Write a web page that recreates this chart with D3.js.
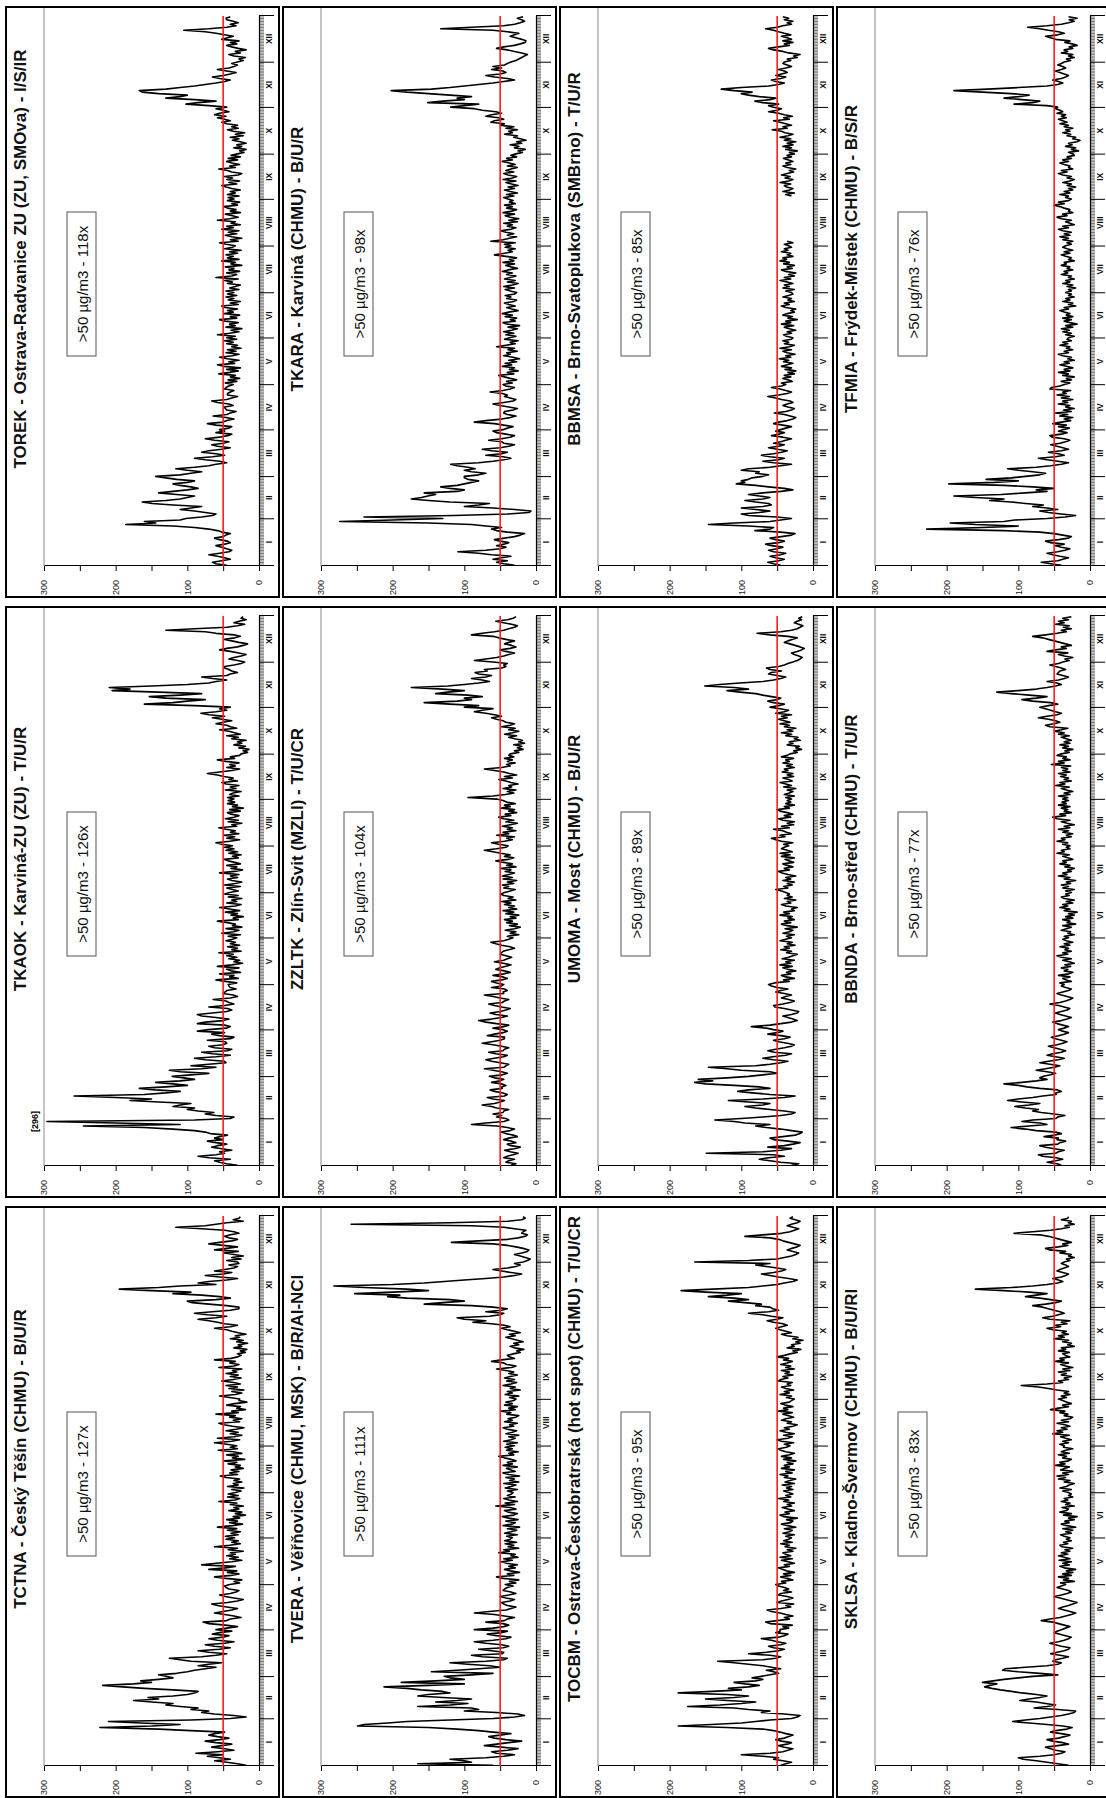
<!DOCTYPE html>
<html>
<head>
<meta charset="utf-8">
<script src="https://cdn.jsdelivr.net/npm/d3@7"></script>
<style>
  html, body { margin: 0; padding: 0; background: #fff; }
  svg { display: block; font-family: "Liberation Sans", Arial, Helvetica, sans-serif; }
</style>
</head>
<body>
<svg id="chart"></svg>
<script>
// ---- axis vocabulary -------------------------------------------------------
const months = ["I", "II", "III", "IV", "V", "VI", "VII", "VIII", "IX", "X", "XI", "XII"];
const monthDays = [31, 28, 31, 30, 31, 30, 31, 31, 30, 31, 30, 31];
const valueTicks = [0, 50, 100, 150, 200, 250, 300];
const valueLabels = [0, 100, 200, 300];
const limitValue = 50;

// ---- stations (ordered by number of days above the limit) -----------------
const stationCodes = ["TCTNA", "TKAOK", "TOREK", "TVERA", "ZZLTK", "TKARA",
                      "TOCBM", "UMOMA", "BBMSA", "SKLSA", "BBNDA", "TFMIA"];
const stationTitles = [
  "TCTNA - Český Těšín (CHMU) - B/U/R",
  "TKAOK - Karviná-ZU (ZU) - T/U/R",
  "TOREK - Ostrava-Radvanice ZU (ZU, SMOva) - I/S/IR",
  "TVERA - Věřňovice (CHMU, MSK) - B/R/AI-NCI",
  "ZZLTK - Zlín-Svit (MZLI) - T/U/CR",
  "TKARA - Karviná (CHMU) - B/U/R",
  "TOCBM - Ostrava-Českobratrská (hot spot) (CHMU) - T/U/CR",
  "UMOMA - Most (CHMU) - B/U/R",
  "BBMSA - Brno-Svatoplukova (SMBrno) - T/U/R",
  "SKLSA - Kladno-Švermov (CHMU) - B/U/RI",
  "BBNDA - Brno-střed (CHMU) - T/U/R",
  "TFMIA - Frýdek-Místek (CHMU) - B/S/R"
];
const exceedDays = [127, 126, 118, 111, 104, 98, 95, 89, 85, 83, 77, 76];

// ---- daily PM10 means, µg/m3, one row per month ----------------------------
const TCTNA = [
  18,30,45,62,40,55,72,50,88,58,35,48,66,52,38,60,75,55,42,58,70,62,48,95,140,222,150,110,165,210,95,
  40,18,35,62,80,70,95,85,110,130,120,150,175,140,155,120,100,90,85,120,160,190,218,175,150,165,140,120,
  130,140,115,100,90,75,60,85,70,52,95,110,125,80,60,45,70,85,55,40,62,75,48,35,58,70,50,42,65,55,38,
  60,45,30,47,70,78,45,40,25,35,48,62,50,38,30,45,58,66,44,30,22,35,47,55,40,32,28,42,46,48,
  41,27,35,24,46,62,39,28,44,31,70,47,33,80,60,38,24,41,29,45,33,40,22,43,30,62,41,26,38,29,46,
  34,47,29,39,26,44,31,58,37,23,41,30,45,27,36,19,33,24,42,28,35,22,40,31,56,33,27,44,29,43,
  33,25,38,21,44,29,36,24,35,27,46,54,30,41,28,39,22,33,26,43,31,48,20,37,29,45,24,36,57,30,40,
  31,45,62,38,27,58,35,24,40,29,46,32,21,37,49,56,27,36,24,41,33,60,29,38,19,31,26,45,34,17,28,
  27,41,55,33,24,38,21,42,30,46,26,35,52,36,25,40,29,46,31,37,24,56,35,28,41,33,62,39,30,25,
  30,19,26,17,35,24,29,16,31,22,40,27,33,18,29,38,45,62,40,30,48,58,70,85,60,45,72,90,65,40,28,
  28,45,70,93,100,60,40,55,80,120,95,150,195,140,110,60,85,70,45,30,55,75,50,38,62,48,35,30,42,28,
  30,45,25,38,22,35,48,29,62,45,30,50,70,55,38,30,42,48,40,28,35,48,80,116,75,60,45,22,36,28,26
];
const TKAOK = [
  30,45,55,62,40,70,85,60,48,55,38,52,66,58,45,60,72,50,62,55,44,68,75,90,120,160,245,110,200,296,90,
  40,35,60,75,63,85,100,90,120,110,95,140,180,150,200,258,160,130,110,145,167,130,100,120,144,110,90,105,
  121,95,70,110,125,80,60,95,70,46,48,75,90,60,40,65,80,44,38,62,70,50,45,47,72,40,35,55,66,48,86,
  70,45,40,48,86,75,50,42,60,80,86,65,45,38,44,70,48,35,42,46,64,40,30,36,50,47,45,32,40,42,
  43,31,47,60,29,41,35,55,26,39,45,28,58,38,23,35,27,42,31,45,36,56,25,38,30,44,27,40,33,46,37,
  31,43,26,52,35,28,46,24,37,33,44,58,29,36,22,39,30,47,27,41,55,33,25,45,31,38,24,43,29,48,
  41,29,37,45,26,48,33,24,38,44,30,40,28,55,34,23,39,31,45,26,34,43,49,29,37,25,42,30,46,35,48,
  37,52,60,41,27,45,34,49,28,40,33,46,56,31,38,24,43,29,47,35,28,39,44,26,41,22,37,30,44,34,43,
  35,44,28,41,36,25,47,32,40,28,46,52,30,42,36,49,58,72,55,38,27,45,33,41,28,46,58,34,40,27,
  25,16,22,14,28,19,35,24,30,18,38,29,45,26,34,42,55,31,40,45,60,50,38,52,65,48,70,81,60,45,55,
  40,90,160,120,100,75,130,153,110,80,140,205,180,209,150,100,70,60,45,65,80,45,40,30,38,42,48,48,35,25,
  20,30,42,35,25,18,28,40,55,45,30,22,16,28,38,48,34,26,35,60,75,130,90,45,30,20,35,28,18,25,22
];
const TOREK = [
  45,60,65,52,40,48,58,70,55,42,38,45,52,60,48,40,44,55,62,50,46,40,52,58,70,90,120,186,144,160,110,
  102,80,65,60,75,90,110,95,80,120,149,163,130,110,100,90,115,140,120,100,85,95,110,120,100,90,115,130,
  144,110,95,80,100,116,90,70,60,45,55,75,90,65,48,60,80,70,52,40,58,66,50,42,62,75,55,44,38,60,48,
  55,42,38,60,72,50,45,35,46,64,45,40,32,45,47,48,36,42,58,66,45,38,30,44,44,40,35,48,46,42,
  36,47,31,43,27,40,33,56,41,29,45,26,49,58,34,42,28,44,55,37,28,46,32,44,25,38,30,45,36,48,31,
  45,33,58,41,28,39,24,46,33,41,29,47,55,31,40,27,48,36,44,30,47,52,29,40,26,43,35,46,31,44,
  35,46,28,41,33,26,44,37,48,29,60,38,31,45,27,42,35,47,24,39,33,52,28,44,36,46,30,41,25,48,37,
  33,46,55,29,40,24,38,47,31,43,28,52,36,45,26,39,33,58,41,29,37,47,26,40,32,44,49,30,38,27,44,
  35,43,28,44,33,40,26,38,46,52,31,42,27,45,37,48,29,24,38,44,56,33,41,27,38,45,30,43,26,39,
  30,21,27,18,35,24,31,18,26,37,28,40,22,33,20,36,44,29,38,30,45,52,40,48,58,46,62,55,42,50,60,
  45,70,102,85,60,90,130,110,100,140,163,167,130,110,90,75,60,48,40,55,65,50,40,32,45,58,42,35,30,38,
  30,22,28,19,35,42,26,33,18,29,38,45,31,40,28,52,44,36,48,60,75,105,70,45,32,40,29,36,45,46,40
];
const TVERA = [
  60,165,90,100,120,70,45,30,55,62,40,25,48,72,55,38,20,42,58,66,50,35,60,80,110,150,249,240,207,180,120,
  60,30,16,25,55,100,80,90,165,120,95,140,110,90,130,165,150,120,130,160,180,212,150,100,188,140,100,120,
  128,90,60,146,110,80,50,65,95,120,70,45,40,75,90,47,45,62,80,46,38,48,70,86,60,42,35,55,68,48,40,
  86,60,45,38,46,70,44,40,30,44,58,86,65,42,35,28,40,45,48,36,30,42,50,38,28,35,46,44,40,32,
  43,28,37,24,46,55,31,40,23,36,44,29,38,26,41,48,33,45,25,35,29,52,37,45,24,39,31,43,27,44,36,
  33,41,26,44,35,27,40,23,46,34,29,42,25,38,47,31,26,39,44,28,36,56,30,43,26,38,45,29,40,34,
  32,40,26,43,35,28,45,24,37,30,42,23,38,46,29,35,41,26,46,33,40,28,35,44,52,31,38,25,41,33,43,
  30,41,26,45,35,29,38,24,42,33,27,40,46,31,37,26,44,33,39,28,24,41,35,48,29,38,26,44,33,42,31,
  28,37,24,43,33,40,22,36,29,46,35,27,41,30,44,36,26,38,31,42,55,34,28,41,45,62,48,30,37,40,
  32,22,27,17,30,36,24,31,18,26,34,42,29,37,22,30,40,48,36,44,62,88,70,100,110,65,50,45,70,48,40,
  60,90,156,130,100,120,180,207,190,253,200,150,180,240,282,200,156,128,100,70,45,30,20,35,48,60,40,28,22,30,
  18,12,8,15,22,30,20,12,10,18,28,40,60,118,80,40,25,15,12,20,18,14,30,45,90,258,120,40,20,15,18
];
const ZZLTK = [
  35,28,42,38,30,45,40,32,25,36,44,30,22,35,40,28,34,45,38,26,32,42,48,36,30,40,55,90,70,45,38,
  42,55,48,60,46,45,38,55,62,75,58,50,44,60,68,44,40,46,58,64,47,48,42,48,62,50,45,58,
  65,47,40,48,60,72,45,42,38,50,62,70,58,45,40,56,66,46,44,38,48,60,75,62,50,44,44,68,58,46,40,
  46,60,45,38,55,70,80,62,48,40,56,64,50,42,36,48,58,66,47,44,38,50,60,72,45,46,40,44,62,48,
  45,55,62,48,40,46,60,45,36,44,56,50,42,35,46,58,45,40,34,42,50,48,46,38,30,36,48,56,63,45,38,
  32,40,24,36,28,43,30,22,37,26,41,33,44,28,36,24,42,31,46,27,38,30,44,35,48,28,39,32,45,49,
  44,36,29,45,38,47,31,40,27,46,33,47,38,30,43,35,48,28,41,33,45,56,39,31,44,36,49,60,72,55,42,
  39,52,62,44,33,41,30,55,38,46,28,40,33,47,36,26,42,31,45,52,35,43,27,38,30,48,36,44,29,41,46,
  55,95,60,43,31,40,28,46,34,38,25,35,42,52,33,44,27,37,45,58,72,48,36,41,29,40,33,44,31,38,
  36,24,30,18,26,20,31,16,24,19,30,38,27,44,33,24,38,29,48,36,30,42,46,55,62,48,58,70,86,75,60,
  100,80,120,156,110,90,100,75,95,140,123,100,130,174,123,100,80,65,75,90,70,62,80,85,68,72,48,42,45,40,
  60,86,70,55,45,38,30,42,50,36,28,34,44,38,30,42,52,60,90,75,58,45,38,30,26,34,45,56,40,32,28
];
const TKARA = [
  30,45,55,40,60,48,35,62,80,109,70,50,42,55,45,38,50,58,44,30,22,16,40,55,62,48,70,90,150,274,200,
  130,240,114,40,10,7,30,60,100,80,65,120,150,174,160,151,140,156,110,100,120,133,110,100,90,80,95,100,
  100,80,70,90,100,85,95,110,119,80,60,45,35,46,70,48,40,62,75,50,38,30,45,48,66,48,36,30,42,55,60,
  46,40,32,45,58,86,70,48,36,28,40,45,44,32,26,38,50,60,45,32,28,36,44,40,47,64,46,36,30,42,
  46,33,41,27,36,44,52,31,40,25,37,30,47,34,43,27,38,23,32,45,36,41,26,39,30,55,42,29,36,25,44,
  37,28,42,31,45,34,26,39,23,40,46,29,36,27,43,33,47,38,25,34,41,29,38,44,31,27,41,35,43,30,
  27,36,43,30,45,33,25,40,29,44,36,28,41,33,47,39,26,35,42,30,46,31,37,27,42,58,44,33,39,29,43,
  35,44,29,63,46,37,27,40,31,42,49,35,28,40,33,45,26,38,24,36,43,30,46,34,27,41,33,44,29,37,32,
  39,45,31,41,26,36,44,30,39,25,34,42,28,46,33,27,39,45,31,42,35,26,40,29,37,47,33,41,27,35,
  28,19,25,15,30,24,36,20,27,14,22,31,26,44,33,38,26,42,31,50,44,63,58,45,52,70,62,48,56,75,86,
  119,100,80,151,130,100,110,90,120,150,180,202,146,120,100,80,60,45,30,40,58,70,50,42,46,62,48,60,44,40,
  35,28,24,20,16,12,20,30,40,55,45,30,22,15,14,20,28,36,30,24,40,60,133,90,45,30,22,16,20,26,18
];
const TOCBM = [
  45,38,30,42,55,48,70,100,60,42,35,28,40,48,36,30,44,52,40,34,28,38,46,55,70,120,188,142,100,80,60,
  30,22,18,40,72,60,90,110,175,130,100,80,120,150,110,90,120,188,140,100,118,90,75,95,110,80,70,85,
  72,60,48,55,65,45,58,70,90,110,133,70,52,45,60,90,65,48,40,55,62,45,38,50,58,72,48,40,35,52,46,
  46,34,42,29,60,66,50,33,40,28,38,46,58,64,45,31,38,27,50,44,35,28,36,48,45,30,41,34,40,48,
  52,38,44,28,36,45,31,41,26,37,43,48,33,40,26,35,44,29,46,31,38,42,28,36,24,39,33,45,29,41,34,
  30,38,26,42,33,29,40,24,35,44,31,28,37,22,41,46,33,39,26,35,43,30,36,26,41,34,48,31,38,28,
  34,41,28,37,30,43,26,39,32,24,40,35,46,29,38,26,44,33,40,28,36,24,41,30,44,33,26,38,45,48,37,
  32,40,27,44,50,35,29,41,26,38,46,33,40,28,22,36,30,44,38,27,34,42,29,48,35,41,28,39,45,33,30,
  26,37,30,46,33,40,27,38,44,31,36,29,48,45,35,42,28,39,33,44,26,38,31,45,36,29,41,34,50,40,
  32,22,28,17,36,26,30,18,24,14,28,21,36,44,30,38,46,52,44,36,42,55,64,50,42,58,70,90,62,48,56,
  60,80,72,95,118,90,110,146,120,100,150,184,140,90,70,50,40,28,22,34,48,60,72,55,44,38,50,65,80,60,
  165,90,50,40,30,24,20,28,36,30,22,18,26,34,42,48,60,95,70,44,32,26,20,28,36,30,22,18,25,32,28
];
const UMOMA = [
  30,20,45,60,75,62,40,55,149,70,45,30,63,40,28,18,35,55,60,42,25,18,15,30,45,65,80,60,95,110,137,
  100,70,45,30,25,40,60,80,95,70,60,90,118,70,40,25,60,85,105,90,60,75,110,150,165,140,160,120,
  90,70,50,60,100,120,146,80,60,45,35,55,70,56,38,30,54,63,52,40,30,26,36,48,55,40,32,45,63,50,42,
  55,65,86,60,45,30,22,28,35,42,30,22,20,30,40,53,55,42,32,26,34,44,38,30,40,52,45,35,50,58,
  62,54,33,41,26,38,44,31,37,24,35,42,29,46,31,38,26,43,34,28,22,37,30,45,33,40,25,36,29,46,38,
  30,37,26,42,33,28,39,22,36,44,31,40,26,35,29,46,33,41,26,30,22,38,44,31,36,24,40,29,36,33,
  38,44,52,35,41,29,36,26,42,31,38,24,35,43,48,33,40,28,36,42,27,34,39,26,44,32,46,29,36,44,40,
  34,41,28,44,52,58,39,46,30,37,42,55,33,44,27,36,26,42,48,31,40,28,36,46,50,33,40,26,38,31,36,
  30,38,26,40,33,28,36,24,41,30,38,46,29,34,42,27,36,28,43,35,40,26,37,29,42,33,38,27,44,36,
  32,22,27,16,24,19,36,28,33,18,26,21,38,30,44,28,36,24,40,33,46,32,40,48,36,44,30,52,40,34,46,
  60,48,40,55,63,50,45,58,70,80,102,120,90,110,151,130,102,70,55,45,38,50,62,58,44,60,65,48,40,35,
  28,22,18,15,20,26,30,22,16,12,18,25,32,40,35,28,22,35,60,78,45,30,22,18,14,20,26,22,16,20,15
];
const BBMSA = [
  45,55,63,48,40,52,60,45,38,55,62,50,42,58,66,48,40,52,60,44,30,25,45,81,60,55,90,146,110,60,45,
  30,50,90,100,75,60,80,100,70,58,62,80,95,70,60,75,90,70,45,28,40,62,80,107,95,100,90,85,
  70,62,80,75,100,90,60,45,30,55,70,48,40,60,72,55,44,36,50,62,48,40,55,45,38,30,42,58,48,40,52,
  45,38,30,42,55,48,36,28,24,32,40,54,38,30,26,35,42,36,28,32,44,52,63,48,36,30,38,46,58,44,
  38,44,29,34,42,31,40,26,35,24,39,30,44,36,28,41,34,47,31,38,25,36,42,30,46,33,26,40,34,42,30,
  28,37,41,30,36,24,33,40,27,44,31,38,22,35,29,42,36,26,31,24,38,44,33,40,26,35,30,42,34,28,
  30,38,26,42,33,40,28,36,46,31,40,26,34,24,38,44,29,36,26,41,33,46,37,42,28,36,31,44,35,40,30,
  34,40,28,36,null,null,null,null,null,null,null,null,null,null,null,null,null,null,null,null,null,null,null,null,null,null,null,null,null,null,null,
  null,null,30,38,26,42,33,28,37,40,31,46,34,28,39,32,44,36,27,33,24,36,42,31,38,28,34,41,30,36,
  26,33,22,38,30,42,28,36,24,40,31,46,35,28,39,44,57,36,42,30,38,46,55,33,41,29,40,48,62,50,44,
  55,62,48,70,81,60,52,75,90,100,85,110,128,100,62,48,40,52,58,45,38,52,44,36,40,48,38,30,36,42,
  40,31,36,22,27,18,34,42,55,62,48,33,40,28,42,30,36,44,31,40,48,55,66,50,42,30,36,28,40,34,42
];
const SKLSA = [
  30,45,60,75,93,100,70,50,40,35,48,55,62,45,30,38,52,60,44,36,28,40,55,48,32,25,38,60,85,108,90,
  70,55,40,30,22,20,45,78,60,48,62,75,98,85,70,60,75,95,110,125,137,147,140,130,150,135,120,100,
  80,45,70,100,122,118,90,60,45,40,52,48,38,30,42,55,46,36,30,28,40,48,56,44,36,30,26,34,42,50,46,
  40,34,28,36,44,52,68,56,42,34,26,20,28,36,44,38,30,24,18,26,34,42,50,40,32,26,30,38,46,40,
  34,41,22,37,30,44,26,38,24,33,20,36,42,29,38,26,43,28,36,44,31,40,28,35,24,39,42,31,37,26,33,
  28,36,41,26,34,24,38,20,32,40,29,35,22,30,18,37,26,42,33,30,39,22,34,28,40,31,36,24,30,26,
  30,38,26,42,33,29,22,36,28,44,34,46,30,38,24,41,36,29,48,35,42,30,26,38,33,44,29,40,34,24,37,
  36,42,30,38,26,34,41,29,52,38,46,32,40,28,35,46,30,40,28,24,36,31,42,35,55,44,30,38,26,33,38,
  44,33,40,28,36,30,46,58,72,96,60,38,44,30,36,26,40,33,44,28,38,24,34,41,30,48,36,42,28,34,
  38,29,44,34,40,22,31,26,38,30,50,36,44,30,39,33,52,60,41,48,32,40,28,56,66,52,44,36,42,50,58,
  66,80,62,48,40,55,70,90,75,60,85,120,160,110,80,60,45,38,44,52,40,34,30,38,46,42,36,30,34,40,
  36,28,33,22,30,26,42,34,56,62,44,31,38,26,34,42,50,58,70,106,80,55,40,29,35,22,30,26,40,31,30
];
const BBNDA = [
  40,46,60,48,38,47,66,72,48,44,36,50,62,70,45,42,34,46,44,64,50,40,48,75,90,110,85,60,70,95,80,
  48,45,35,50,68,80,72,90,105,85,70,95,115,100,80,66,47,48,40,45,70,88,100,120,95,75,60,70,
  65,55,48,60,75,62,50,42,56,70,58,44,36,48,60,52,40,34,42,50,58,46,38,32,40,48,54,44,36,30,38,
  44,36,30,38,46,52,40,32,26,34,42,48,40,32,28,36,44,56,42,34,28,24,32,40,46,38,30,26,34,40,
  36,42,26,33,38,28,44,30,24,36,31,40,27,35,22,29,38,26,40,46,31,38,26,35,30,42,28,36,24,33,38,
  30,36,22,31,27,40,33,26,38,20,32,28,38,24,34,22,30,18,36,28,42,31,38,24,33,22,36,40,29,34,
  26,34,22,38,30,40,27,33,20,36,28,44,32,38,26,31,22,35,28,42,33,38,24,31,38,29,46,36,40,28,33,
  28,38,31,46,35,40,26,33,24,38,30,44,28,36,22,32,40,28,46,52,34,42,26,36,31,40,28,44,33,39,30,
  38,31,44,28,36,24,33,40,29,48,35,42,26,36,30,41,33,44,28,38,31,40,27,54,36,44,28,38,33,46,
  40,29,35,24,38,30,42,28,36,26,33,40,29,44,36,50,40,31,56,62,50,42,48,58,72,60,46,40,48,55,62,
  70,58,45,55,80,95,75,60,85,110,130,100,75,60,48,40,46,60,44,36,30,38,46,44,42,34,40,48,56,44,
  38,29,35,24,36,44,31,60,48,33,40,26,34,42,50,58,66,80,62,46,33,40,26,37,29,48,36,44,30,38,26
];
const TFMIA = [
  40,55,68,45,38,30,42,52,60,45,35,28,40,48,36,55,62,44,30,26,38,50,70,120,228,150,100,160,195,120,105,
  60,35,20,40,58,70,45,60,80,65,90,110,140,120,160,190,124,90,60,75,50,80,120,197,133,100,145,110,
  90,70,62,80,100,115,75,55,40,30,45,60,72,48,36,44,58,40,30,38,46,55,42,34,28,36,53,56,40,32,44,
  38,29,44,33,52,40,27,36,24,42,31,48,26,37,22,34,28,44,31,38,24,40,29,46,33,38,27,56,54,42,
  36,28,40,26,33,22,38,30,44,28,36,24,33,42,29,36,22,31,26,38,44,30,36,24,33,28,42,31,38,26,32,
  30,22,34,26,38,29,40,24,34,18,28,36,26,38,24,33,28,36,42,30,36,20,30,24,38,28,34,22,30,26,
  34,26,30,20,32,24,38,28,34,22,30,26,40,31,36,24,32,28,40,33,36,22,30,26,34,40,28,36,24,32,38,
  34,26,32,24,38,30,42,28,36,26,38,44,30,38,22,28,34,26,40,46,32,38,24,30,28,36,42,50,36,44,30,
  26,34,30,42,28,36,24,30,20,32,26,38,28,22,32,26,38,44,32,40,24,30,28,36,42,30,38,26,32,22,
  24,30,16,26,20,34,25,30,18,14,24,20,32,27,38,28,34,24,36,30,42,32,38,44,33,40,34,46,38,42,48,
  45,60,106,80,70,95,120,100,85,110,150,190,143,100,60,45,38,44,52,40,34,30,36,42,48,40,34,38,45,40,
  36,27,33,22,30,24,40,31,36,24,29,18,25,35,28,48,55,62,45,36,44,58,70,87,60,40,30,22,29,18,30
];
const stationSeries = [TCTNA, TKAOK, TOREK, TVERA, ZZLTK, TKARA,
                       TOCBM, UMOMA, BBMSA, SKLSA, BBNDA, TFMIA];

// ---- page --------------------------------------------------------------------
const pageW = 1106, pageH = 1798;
const svg = d3.select("#chart").attr("width", pageW).attr("height", pageH);
svg.append("rect").attr("width", pageW).attr("height", pageH).attr("fill", "#fff");

// the sheet is laid out in landscape (3 columns x 4 rows of panels) and turned
// a quarter turn counter-clockwise onto the portrait page
const sheet = svg.append("g").attr("transform", `translate(0,${pageH}) rotate(-90)`);

const panelW = 590, panelH = 273;
const colStep = 600, rowStep = 277, rowStart = 6;
const yearDays = d3.sum(monthDays);
const monthStarts = Array.from(d3.cumsum([0, ...monthDays])).slice(0, 13);
const monthMids = months.map((m, i) => monthStarts[i] + monthDays[i] / 2);

const x = d3.scaleLinear().domain([0, yearDays]).range([31, 581]);
const y = d3.scaleLinear().domain([0, 300]).range([253, 38]);

const line = d3.line()
  .defined(v => v != null)
  .x((v, i) => x(i + 0.5))
  .y(v => y(v));

function styleAxis(g) {
  g.attr("font-family", null).attr("font-size", null);
  g.selectAll(".tick line").attr("stroke", "#000");
  g.select(".domain").attr("stroke", "#000");
}

stationCodes.forEach((code, i) => {
  const data = stationSeries[i];
  const px = 1 + colStep * (i % 3);
  const py = rowStart + rowStep * Math.floor(i / 3);
  const g = sheet.append("g").attr("transform", `translate(${px},${py})`);

  const clipId = "clip-" + code;
  g.append("clipPath").attr("id", clipId)
    .append("rect").attr("width", panelW).attr("height", panelH);
  const body = g.append("g").attr("clip-path", `url(#${clipId})`);

  body.append("rect").attr("width", panelW).attr("height", panelH).attr("fill", "#fff");

  // plot ceiling
  body.append("line")
    .attr("x1", x(0)).attr("x2", panelW)
    .attr("y1", y(300)).attr("y2", y(300))
    .attr("stroke", "#8a8a8a").attr("stroke-width", 1);

  // daily ticks along the time axis
  body.append("g")
    .attr("transform", `translate(0,${y(0)})`)
    .call(d3.axisBottom(x).tickValues(d3.range(0, yearDays + 1)).tickSize(5).tickSizeOuter(0).tickFormat(""))
    .call(g => { styleAxis(g); g.select(".domain").remove();
                 g.selectAll(".tick line").attr("stroke", "#222").attr("stroke-width", 0.6); });

  // month boundaries
  body.append("g")
    .attr("transform", `translate(0,${y(0)})`)
    .call(d3.axisBottom(x).tickValues(monthStarts).tickSize(15).tickSizeOuter(0).tickFormat(""))
    .call(g => { styleAxis(g); g.select(".domain").attr("stroke-width", 1.2); });

  // month names
  body.append("g")
    .attr("transform", `translate(0,${y(0)})`)
    .call(d3.axisBottom(x).tickValues(monthMids).tickSize(0).tickPadding(7)
            .tickFormat((d, k) => months[k]))
    .call(g => { styleAxis(g); g.select(".domain").remove();
                 g.selectAll("text").attr("font-size", 8.5).attr("font-weight", "bold").attr("fill", "#111"); });

  // concentration axis
  body.append("g")
    .attr("transform", `translate(${x(0)},0)`)
    .call(d3.axisLeft(y).tickValues(valueTicks).tickSize(5).tickSizeOuter(0).tickPadding(9)
            .tickFormat(d => valueLabels.includes(d) ? d : ""))
    .call(g => { styleAxis(g);
                 g.selectAll("text").attr("font-size", 9).attr("fill", "#222"); });

  // daily series
  body.append("path")
    .datum(data)
    .attr("fill", "none")
    .attr("stroke", "#000")
    .attr("stroke-width", 1.6)
    .attr("stroke-linejoin", "round")
    .attr("d", line);

  // limit value
  body.append("line")
    .attr("x1", x(0)).attr("x2", x(yearDays))
    .attr("y1", y(limitValue)).attr("y2", y(limitValue))
    .attr("stroke", "#ff1a1a").attr("stroke-width", 1.6);

  // peak close to the top of the scale
  const peak = d3.max(data);
  if (peak >= 290) {
    const at = data.indexOf(peak);
    body.append("text")
      .attr("x", x(at + 0.5)).attr("y", y(300) - 6)
      .attr("text-anchor", "middle")
      .attr("font-size", 9).attr("font-weight", "bold")
      .text(`[${peak}]`);
  }

  // exceedance box
  body.append("rect")
    .attr("x", 241).attr("y", 61).attr("width", 144).attr("height", 29)
    .attr("fill", "#fff").attr("stroke", "#6f6f6f").attr("stroke-width", 1.2);
  body.append("text")
    .attr("x", 313).attr("y", 82)
    .attr("text-anchor", "middle")
    .attr("font-size", 15)
    .attr("fill", "#111")
    .text(`>${limitValue} µg/m3 - ${exceedDays[i]}x`);

  // station title
  body.append("text")
    .attr("x", 338).attr("y", 20)
    .attr("text-anchor", "middle")
    .attr("font-size", 17).attr("font-weight", "bold")
    .attr("fill", "#111")
    .text(stationTitles[i]);

  // panel frame
  g.append("rect")
    .attr("width", panelW).attr("height", panelH)
    .attr("fill", "none").attr("stroke", "#000").attr("stroke-width", 2);
});

// consistency of the series with their day counts
const problems = [];
stationSeries.forEach((s, i) => {
  if (s.length !== yearDays) problems.push(`${stationCodes[i]} length ${s.length}`);
  const n = s.filter(v => v != null && v > limitValue).length;
  if (n !== exceedDays[i]) problems.push(`${stationCodes[i]} count ${n}`);
});
if (problems.length) throw new Error(problems.join("; "));
</script>
</body>
</html>
